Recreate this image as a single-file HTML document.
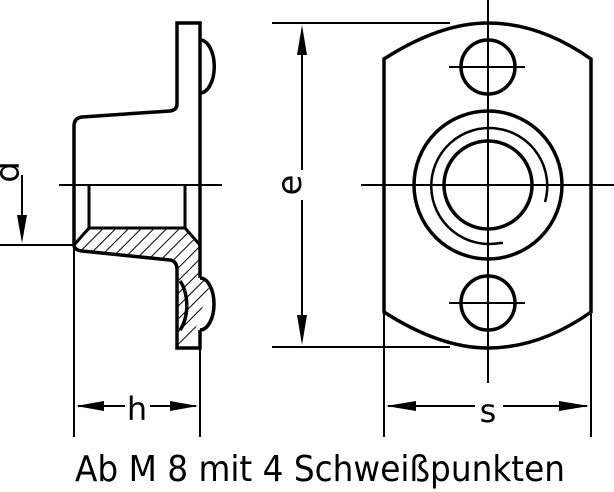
<!DOCTYPE html>
<html><head><meta charset="utf-8"><style>
html,body{margin:0;padding:0;background:#fff;}
svg{display:block;}
text{font-family:"DejaVu Sans","Liberation Sans",sans-serif;fill:#000;}
</style></head><body>
<svg width="614" height="492" viewBox="0 0 614 492" xmlns="http://www.w3.org/2000/svg">
<defs>
<pattern id="h" patternUnits="userSpaceOnUse" width="9" height="9" patternTransform="rotate(45)">
<line x1="0" y1="0" x2="0" y2="9" stroke="#000" stroke-width="2"/>
</pattern>
</defs>
<g fill="none" stroke="#000" stroke-linecap="butt">
<!-- LEFT VIEW -->
<g stroke-width="3.5">
<path d="M200,278 V23 H177 V104 Q177,110 170,111 L82,117 Q74,118 74,126 V245"/>
<path d="M200,40 A14,26 0 0 1 200,93"/>
<path d="M74,245 Q74,250 82,251 L170,260 Q177,261 177,270 V348 H200 V330"/>
<path d="M200,278 A14,26 0 0 1 200,330"/>
<path d="M180,281 A16,30 0 0 1 180,330"/>
</g>
<path d="M74,245 L89,228 H185 L200,245 V270 Q205,280 210,285 L195,330 L178,345 V270 Q177,261 170,260 L82,251 Q74,250 74,245 Z" fill="url(#h)" stroke="none"/>
<line x1="89" y1="228" x2="185" y2="228" stroke-width="3"/>
<line x1="74" y1="245" x2="89" y2="228" stroke-width="3"/>
<line x1="185" y1="228" x2="200" y2="245" stroke-width="3"/>
<line x1="89" y1="185" x2="89" y2="228" stroke-width="3"/>
<line x1="185" y1="185" x2="185" y2="228" stroke-width="3"/>
<g stroke-width="2">
<line x1="59" y1="185" x2="222" y2="185"/>
<line x1="0" y1="245" x2="74" y2="245"/>
<line x1="22" y1="175" x2="22" y2="235"/>
<line x1="74" y1="245" x2="74" y2="437"/>
<line x1="200" y1="348" x2="200" y2="437"/>
<line x1="78" y1="406" x2="196" y2="406"/>
</g>
<!-- RIGHT VIEW -->
<g stroke-width="3.5">
<path d="M384,312 V59 Q440,23 488,23 Q540,23 591,59 V312 Q540,348 488,348 Q440,348 384,312 Z"/>
<circle cx="488" cy="67" r="27"/>
<circle cx="488" cy="303" r="27"/>
<circle cx="488" cy="185" r="74"/>
<circle cx="488" cy="185" r="44"/>
</g>
<path d="M545,202 A58,58 0 1 0 500,243 L503,243" stroke-width="2.5"/>
<g stroke-width="2">
<line x1="361" y1="185" x2="614" y2="185"/>
<line x1="488" y1="0" x2="488" y2="383"/>
<line x1="449" y1="67" x2="525" y2="67"/>
<line x1="449" y1="303" x2="525" y2="303"/>
<line x1="272" y1="23" x2="450" y2="23"/>
<line x1="272" y1="347" x2="450" y2="347"/>
<line x1="302" y1="30" x2="302" y2="340"/>
<line x1="384" y1="312" x2="384" y2="437"/>
<line x1="591" y1="312" x2="591" y2="437"/>
<line x1="388" y1="406" x2="587" y2="406"/>
</g>
</g>
<g fill="#000">
<polygon points="22,243 17,215 27,215"/>
<polygon points="76,406 104,401 104,411"/>
<polygon points="198,406 170,401 170,411"/>
<polygon points="302,25 297,55 307,55"/>
<polygon points="302,345 297,315 307,315"/>
<polygon points="386,406 416,401 416,411"/>
<polygon points="589,406 559,401 559,411"/>
</g>
<rect x="280" y="170" width="40" height="30" fill="#fff"/>
<rect x="125" y="395" width="25" height="22" fill="#fff"/>
<rect x="475" y="395" width="28" height="22" fill="#fff"/>
<text x="0" y="0" font-size="34" transform="translate(290,185) rotate(-90)" text-anchor="middle" dominant-baseline="central">e</text>
<text x="0" y="0" font-size="34" transform="translate(8,172) rotate(-90)" text-anchor="middle" dominant-baseline="central">d</text>
<text x="137" y="420" font-size="32" text-anchor="middle">h</text>
<text x="488" y="422" font-size="32" text-anchor="middle">s</text>
<text x="75" y="481" font-size="36" textLength="490" lengthAdjust="spacingAndGlyphs">Ab M 8 mit 4 Schweißpunkten</text>
</svg>
</body></html>
